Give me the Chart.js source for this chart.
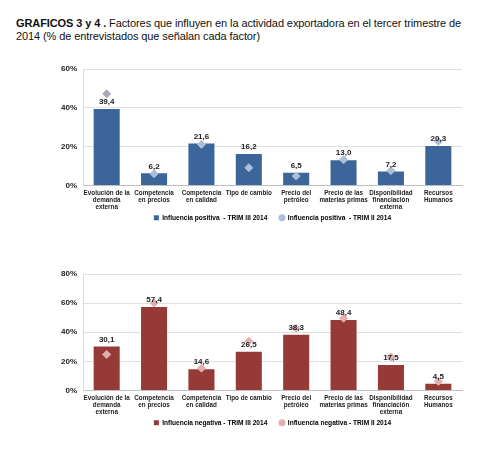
<!DOCTYPE html>
<html lang="es">
<head>
  <meta charset="UTF-8" />
  <title>Factores actividad exportadora</title>
  <script src="https://cdn.jsdelivr.net/npm/chart.js"></script>
  <style>
    body {
      margin: 0;
      background: #fff;
      font-family: 'Liberation Sans', Arial, sans-serif;
      width: 500px;
      height: 454px;
      position: relative;
      overflow: hidden;
    }
    .titulo {
      position: absolute;
      left: 16px;
      top: 17px;
      font-size: 11px;
      line-height: 13px;
      letter-spacing: -0.1px;
      color: #111;
      white-space: nowrap;
    }
    .grafico { position: absolute; left: 0; width: 500px; }
    #g3 { top: 55px; height: 176px; }
    #g4 { top: 260px; height: 176px; }
  </style>
</head>
<body>
  <div class="titulo"><b>GRAFICOS 3 y 4 .</b> Factores que influyen en la actividad exportadora en el tercer trimestre de<br>2014 (% de entrevistados que señalan cada factor)</div>
  <div class="grafico" id="g3"><canvas id="c3"></canvas></div>
  <div class="grafico" id="g4"><canvas id="c4"></canvas></div>

  <script>
    const factores = [
      ['Evolución de la', 'demanda', 'externa'],
      ['Competencia', 'en precios'],
      ['Competencia', 'en calidad'],
      ['Tipo de cambio'],
      ['Precio del', 'petróleo'],
      ['Precio de las', 'materias primas'],
      ['Disponibilidad', 'financiación', 'externa'],
      ['Recursos', 'Humanos']
    ];
    const positivaTrim3 = [39.4, 6.2, 21.6, 16.2, 6.5, 13.0, 7.2, 20.3];
    const positivaTrim2 = [47.2, 6.0, 21.1, 9.1, 4.8, 13.2, 7.6, 22.7];
    const negativaTrim3 = [30.1, 57.4, 14.6, 26.5, 38.3, 48.4, 17.5, 4.5];
    const negativaTrim2 = [24.7, 60.1, 15.3, 33.8, 42.7, 49.6, 23.0, 6.2];

    const fuente = '"Liberation Sans", Arial, sans-serif';

    const etiquetas = {
      id: 'etiquetas',
      afterDatasetsDraw(chart) {
        const ctx = chart.ctx;
        const meta = chart.getDatasetMeta(0);
        ctx.save();
        ctx.font = 'bold 8px ' + fuente;
        ctx.fillStyle = '#222';
        ctx.textAlign = 'center';
        ctx.textBaseline = 'bottom';
        meta.data.forEach((bar, i) => {
          const v = chart.data.datasets[0].data[i];
          ctx.fillText(v.toFixed(1).replace('.', ','), bar.x, bar.y - 3);
        });
        ctx.restore();
      }
    };

    function crear(id, barras, puntos, colorBarra, colorPunto, nombreBarra, nombrePunto, maximo) {
      return new Chart(document.getElementById(id), {
        type: 'bar',
        data: {
          labels: factores,
          datasets: [
            {
              label: nombreBarra,
              data: barras,
              backgroundColor: colorBarra,
              borderWidth: 0,
              categoryPercentage: 0.55,
              barPercentage: 1,
              order: 2
            },
            {
              type: 'line',
              label: nombrePunto,
              data: puntos,
              showLine: false,
              pointStyle: 'rectRot',
              pointRadius: 4,
              pointBackgroundColor: colorPunto,
              pointBorderColor: colorPunto,
              backgroundColor: colorPunto,
              borderColor: colorPunto,
              order: 1
            }
          ]
        },
        options: {
          responsive: true,
          maintainAspectRatio: false,
          animation: false,
          layout: { padding: { left: 40, right: 38, top: 14, bottom: 0 } },
          scales: {
            x: {
              grid: { display: false, drawTicks: false },
              border: { color: '#bfbfbf' },
              ticks: {
                color: '#222',
                font: { size: 6.3, weight: 'bold', family: fuente, lineHeight: '7px' },
                maxRotation: 0,
                autoSkip: false,
                padding: 4
              },
              afterFit(scale) { scale.height = 26; }
            },
            y: {
              min: 0,
              max: maximo,
              ticks: {
                stepSize: 20,
                color: '#222',
                padding: 6,
                font: { size: 8, weight: 'bold', family: fuente },
                callback: v => v + '%'
              },
              grid: { color: '#e0e0e0', drawTicks: false },
              border: { color: '#d9d9d9' },
              afterFit(scale) { scale.width = 43; }
            }
          },
          plugins: {
            tooltip: { enabled: false },
            legend: {
              position: 'bottom',
              fullSize: false,
              labels: {
                usePointStyle: true,
                boxWidth: 5,
                boxHeight: 5,
                padding: 3,
                color: '#222',
                font: { size: 6.6, weight: 'bold', family: fuente },
                generateLabels(chart) {
                  return chart.data.datasets.map((ds, i) => ({
                    text: ds.label + (i === 0 ? '     ' : ''),
                    fillStyle: i === 0 ? ds.backgroundColor : colorPunto,
                    strokeStyle: i === 0 ? ds.backgroundColor : colorPunto,
                    pointStyle: i === 0 ? 'rect' : 'circle',
                    lineWidth: 0,
                    datasetIndex: i
                  }));
                }
              }
            }
          }
        },
        plugins: [etiquetas]
      });
    }

    const grafico3 = crear('c3', positivaTrim3, positivaTrim2, '#3c6699', '#a9bfdc',
      'Influencia positiva  - TRIM III 2014', 'Influencia positiva  - TRIM II 2014', 60);
    // el primer rombo del gráfico 3 aparece grisáceo
    grafico3.data.datasets[1].pointBackgroundColor = ['#a7abb5', '#a9bfdc', '#a9bfdc', '#a9bfdc', '#a9bfdc', '#a9bfdc', '#a9bfdc', '#a9bfdc'];
    grafico3.data.datasets[1].pointBorderColor = grafico3.data.datasets[1].pointBackgroundColor;
    grafico3.update();

    crear('c4', negativaTrim3, negativaTrim2, '#963a38', '#e3aeae',
      'Influencia negativa - TRIM III 2014', 'Influencia negativa - TRIM II 2014', 80);
  </script>
</body>
</html>
